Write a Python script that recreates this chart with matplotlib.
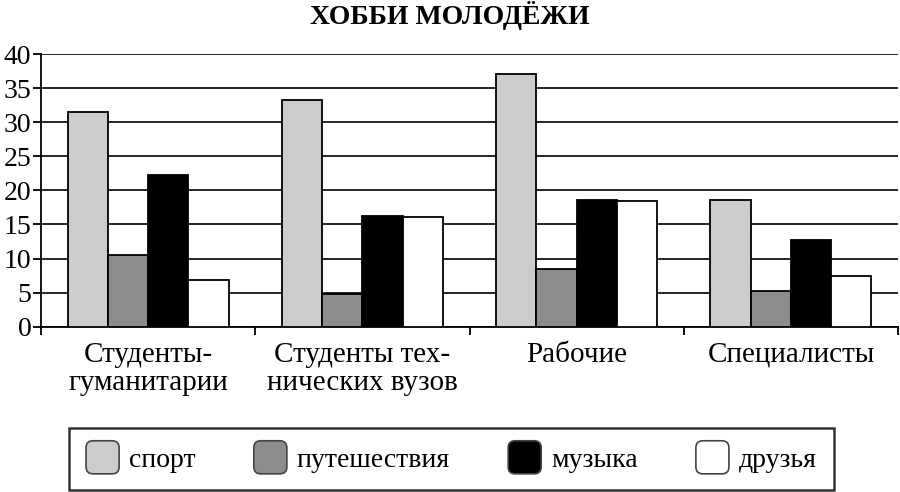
import matplotlib
matplotlib.use("Agg")
import matplotlib.pyplot as plt
import numpy as np
from matplotlib.patches import Patch, FancyBboxPatch
from matplotlib.legend_handler import HandlerPatch

categories = ["Студенты-\nгуманитарии", "Студенты тех-\nнических вузов", "Рабочие", "Специалисты"]
series_names = ["спорт", "путешествия", "музыка", "друзья"]
sport = [31.5, 33.2, 37.1, 18.6]
travel = [10.5, 4.8, 8.5, 5.3]
music = [22.2, 16.2, 18.6, 12.7]
friends = [6.8, 16.1, 18.4, 7.5]
yticks = [0, 5, 10, 15, 20, 25, 30, 35, 40]

colors = ["#cccccc", "#8c8c8c", "#000000", "#ffffff"]
series = [sport, travel, music, friends]

plt.rcParams['font.family'] = ['Liberation Serif', 'DejaVu Serif']

fig = plt.figure(figsize=(9, 4.92), dpi=100)
ax = fig.add_axes([0.0456, 0.336, 0.9522, 0.554])

n = len(categories)
centers = np.arange(n) + 0.5
bw = 0.188
for i, (vals, col) in enumerate(zip(series, colors)):
    ax.bar(centers + (i - 1.5) * bw, vals, width=bw, color=col,
           edgecolor="black", linewidth=1.3, zorder=3, label=series_names[i])

ax.set_xlim(0, n)
ax.set_ylim(0, 40)
ax.set_yticks(yticks)
ax.set_yticklabels([str(t) for t in yticks], fontsize=20)
ax.yaxis.grid(True, color="black", linewidth=1.2, zorder=0)
ax.set_axisbelow(True)

ax.set_xticks(np.arange(n + 1))
ax.set_xticklabels([])
ax.set_xticks(centers, minor=True)
ax.set_xticklabels(categories, minor=True, fontsize=21, linespacing=1.1)
ax.tick_params(axis="x", which="minor", length=0, pad=11)
ax.tick_params(axis="x", which="major", length=6, width=1.3, direction="out")
ax.tick_params(axis="y", length=6, width=1.3, pad=1)

for s in ["top", "right"]:
    ax.spines[s].set_visible(False)
ax.spines["left"].set_linewidth(1.3)
ax.spines["bottom"].set_linewidth(1.3)

fig.text(0.5, 0.998, "ХОББИ МОЛОДЁЖИ", ha="center", va="top",
         fontsize=20, fontweight="bold")


def rounded(legend, orig_handle, xdescent, ydescent, width, height, fontsize):
    side = width
    y0 = -ydescent + height / 2 - side / 2
    return FancyBboxPatch((-xdescent, y0), side, side,
                          boxstyle="round,pad=0,rounding_size=5")


handles = [Patch(facecolor=c, edgecolor="#444444", linewidth=1.2) for c in colors]
leg = fig.legend(handles, series_names, loc="lower center",
                 bbox_to_anchor=(0.5015, 0.004), ncol=4, fontsize=20,
                 frameon=True, fancybox=False, edgecolor="black",
                 handlelength=1.19, handleheight=1.0, handletextpad=0.35,
                 columnspacing=2.1, borderpad=0.62, borderaxespad=0,
                 handler_map={Patch: HandlerPatch(patch_func=rounded)})
leg.get_frame().set_linewidth(1.8)

fig.savefig("out.png", dpi=100)
